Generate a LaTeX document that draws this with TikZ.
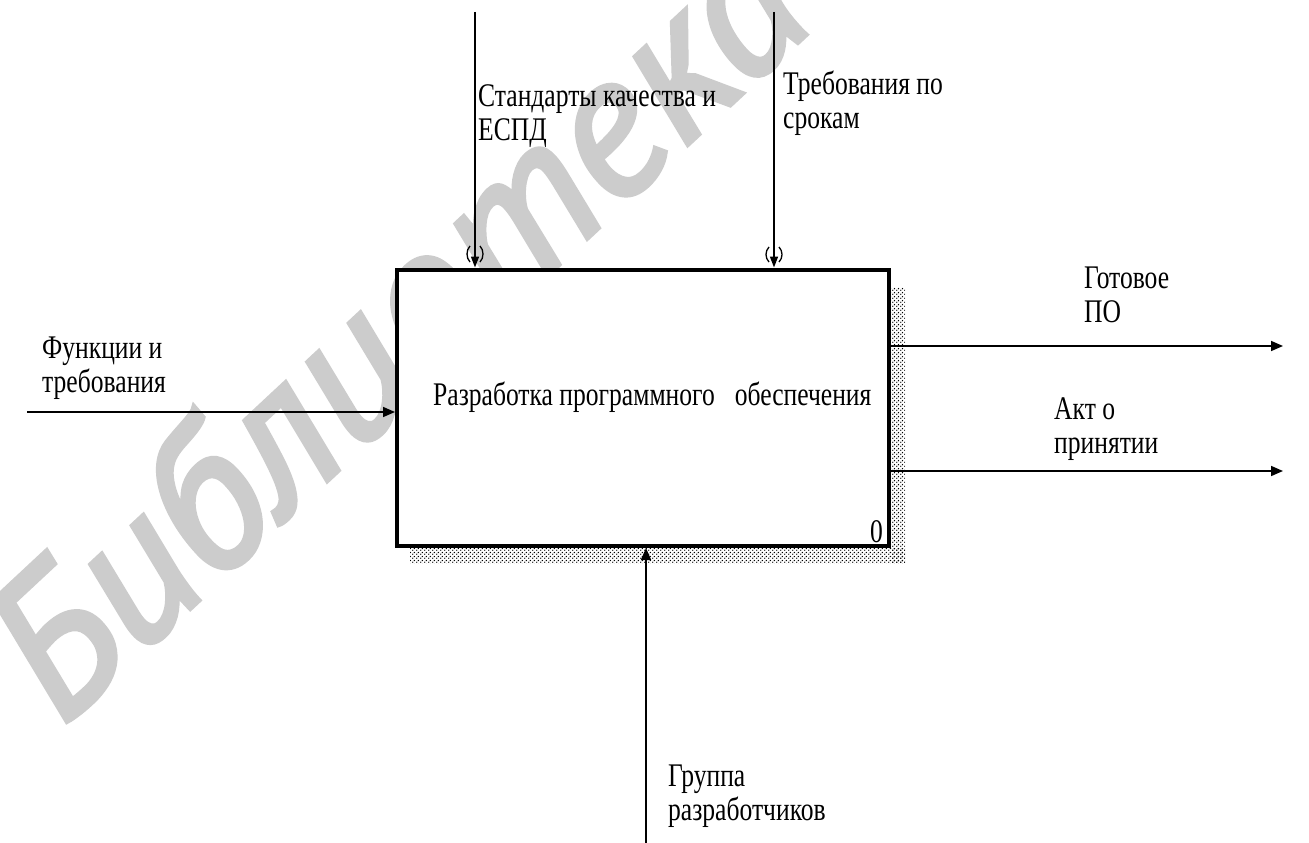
\documentclass[tikz,border=0pt]{standalone}
\usepackage{fontspec}
\setmainfont{Liberation Serif}[FakeStretch=0.775]
\newfontfamily\wmfont{PT Sans}[UprightFont=* Italic, FakeBold=2.5]
\usetikzlibrary{arrows.meta,patterns}
\definecolor{wmgray}{RGB}{204,204,204}
\pgfdeclarepatternformonly{shdots}{\pgfqpoint{0pt}{0pt}}{\pgfqpoint{4pt}{4pt}}{\pgfqpoint{4pt}{4pt}}{%
  \pgfpathcircle{\pgfqpoint{1pt}{1pt}}{0.85pt}%
  \pgfpathcircle{\pgfqpoint{3pt}{3pt}}{0.85pt}%
  \pgfusepath{fill}}
\tikzset{
  lbl/.style={font=\fontsize{33}{34}\selectfont, align=left, inner sep=0pt, anchor=base west},
  arr/.style={line width=1.6pt, -{Triangle[length=12pt,width=10pt]}},
  tarr/.style={line width=1.6pt, -{Triangle[length=11pt,width=8pt]}},
  tunnel/.style={line width=1.3pt},
  shadow/.style={pattern=shdots, pattern color=black},
  funcbox/.style={draw, line width=4pt, fill=white, minimum width=492pt, minimum height=276.5pt, inner sep=0pt}
}
\begin{document}
\begin{tikzpicture}[x=1pt,y=-1pt]
\useasboundingbox (0,0) rectangle (1309,843);
\fill[white] (0,0) rectangle (1309,843);
% watermark
\node[rotate=43, anchor=base west, inner sep=0pt, text=wmgray,
      font=\wmfont\fontsize{200}{200}\selectfont] (wm) at (62,728) {Библиотека};
% shadow
\fill[shadow] (891,287) rectangle (905,563);
\fill[shadow] (410,548) rectangle (905,563);
% box
\node[funcbox] (box) at (643,407.75) {};
\node[lbl] (title) at (433,405) {Разработка программного\hspace{20pt}обеспечения};
\node[lbl, anchor=base east] (num) at (883,542) {0};
% input
\coordinate (inS) at (27,412);
\draw[arr] (inS) -- (inS -| box.west);
\node[lbl] (inL) at (42,392) {Функции и\\требования};
% controls
\coordinate (c1) at (475,12);
\coordinate (c2) at (774,12);
\draw[tarr] (c1) -- (c1 |- box.north);
\draw[tarr] (c2) -- (c2 |- box.north);
\draw[tunnel] (470,246) .. controls (466,250) and (466,258) .. (470,262);
\draw[tunnel] (480,246) .. controls (484,250) and (484,258) .. (480,262);
\draw[tunnel] (769,247) .. controls (765,251) and (765,258) .. (769,262);
\draw[tunnel] (779,247) .. controls (783,251) and (783,258) .. (779,262);
\node[lbl] (c1L) at (478,140) {Стандарты качества и\\ЕСПД};
\node[lbl] (c2L) at (783,128) {Требования по\\срокам};
% outputs
\coordinate (o1) at (1283,346);
\coordinate (o2) at (1283,471);
\draw[arr] (o1 -| box.east) -- (o1);
\draw[arr] (o2 -| box.east) -- (o2);
\node[lbl] (o1L) at (1084,322) {Готовое\\ПО};
\node[lbl] (o2L) at (1054,453) {Акт о\\принятии};
% mechanism
\coordinate (m) at (646,843);
\draw[arr] (m) -- (m |- box.south);
\node[lbl] (mL) at (668,820) {Группа\\разработчиков};
\end{tikzpicture}
\end{document}
